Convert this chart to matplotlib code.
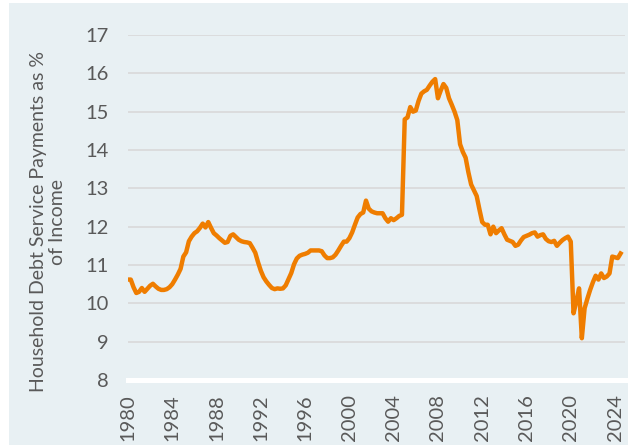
import numpy as np
import matplotlib
matplotlib.use("Agg")
from matplotlib import pyplot as plt
from matplotlib.patches import Rectangle

# quarterly values, 1980Q1 .. 2024Q3
dsr = [
    10.62, 10.62, 10.42, 10.27,   # 1980
    10.30, 10.40, 10.30, 10.38,   # 1981
    10.46, 10.51, 10.44, 10.38,   # 1982
    10.35, 10.35, 10.37, 10.42,   # 1983
    10.50, 10.62, 10.75, 10.90,   # 1984
    11.22, 11.33, 11.62, 11.74,   # 1985
    11.83, 11.88, 11.97, 12.08,   # 1986
    11.98, 12.12, 11.97, 11.83,   # 1987
    11.77, 11.70, 11.64, 11.58,   # 1988
    11.60, 11.76, 11.80, 11.73,   # 1989
    11.66, 11.62, 11.60, 11.59,   # 1990
    11.57, 11.45, 11.32, 11.07,   # 1991
    10.85, 10.68, 10.57, 10.48,   # 1992
    10.40, 10.37, 10.39, 10.38,   # 1993
    10.39, 10.47, 10.63, 10.79,   # 1994
    11.02, 11.17, 11.24, 11.27,   # 1995
    11.29, 11.32, 11.38, 11.38,   # 1996
    11.38, 11.38, 11.36, 11.25,   # 1997
    11.18, 11.18, 11.20, 11.27,   # 1998
    11.38, 11.50, 11.61, 11.61,   # 1999
    11.70, 11.85, 12.05, 12.24,   # 2000
    12.33, 12.37, 12.68, 12.47,   # 2001
    12.40, 12.37, 12.35, 12.35,   # 2002
    12.35, 12.22, 12.13, 12.22,   # 2003
    12.17, 12.22, 12.28, 12.31,   # 2004
    14.80, 14.85, 15.12, 15.00,   # 2005
    15.03, 15.28, 15.47, 15.53,   # 2006
    15.57, 15.68, 15.78, 15.85,   # 2007
    15.35, 15.55, 15.72, 15.62,   # 2008
    15.35, 15.18, 15.00, 14.78,   # 2009
    14.15, 13.95, 13.80, 13.42,   # 2010
    13.10, 12.95, 12.80, 12.45,   # 2011
    12.12, 12.05, 12.05, 11.80,   # 2012
    12.00, 11.83, 11.90, 11.96,   # 2013
    11.80, 11.66, 11.63, 11.60,   # 2014
    11.50, 11.53, 11.64, 11.73,   # 2015
    11.76, 11.79, 11.83, 11.85,   # 2016
    11.74, 11.78, 11.80, 11.68,   # 2017
    11.62, 11.60, 11.63, 11.50,   # 2018
    11.58, 11.65, 11.70, 11.74,   # 2019
    11.61, 9.74, 10.05, 10.39,    # 2020
    9.09, 9.87, 10.12, 10.35,     # 2021
    10.55, 10.72, 10.62, 10.78,   # 2022
    10.66, 10.70, 10.78, 11.22,   # 2023
    11.20, 11.18, 11.30,          # 2024
]
years = 1980 + np.arange(len(dsr)) / 4.0
xticks = list(range(1980, 2025, 4))
yticks = list(range(8, 18))

orange = '#ef7d00'
panel = '#e8f0f3'
grid_c = '#d9d9d9'
text_c = '#595959'

plt.rcParams['font.family'] = ['Lato', 'DejaVu Sans']

fig = plt.figure(figsize=(6.28, 4.46), dpi=100, facecolor='white')
# light panel behind everything
fig.patches.append(Rectangle((9/628, 1/446), 619/628, 442/446, transform=fig.transFigure,
                             facecolor=panel, edgecolor='none', zorder=-10))

ax = fig.add_axes([128/628, 1-380/446, 497/628, 345/446])
ax.set_facecolor('none')

for v in yticks[1:]:
    ax.axhline(v, color=grid_c, lw=1.2, zorder=1)
ax.axhline(8, color='white', lw=3.6, zorder=2, clip_on=False)

ax.plot(years, dsr, color=orange, lw=3.2, solid_joinstyle='round', zorder=3)

ax.set_xlim(1980, 2024.9)
ax.set_ylim(8, 17)
ax.set_xticks(xticks)
ax.set_xticklabels([str(t) for t in xticks], rotation=90)
ax.set_yticks(yticks)
ax.tick_params(axis='both', length=0, colors=text_c, labelsize=14.5)
ax.tick_params(axis='y', pad=14)
ax.tick_params(axis='x', pad=10)
for s in ax.spines.values():
    s.set_visible(False)

fig.text(48/628, 1-222/446, "Household Debt Service Payments as %\nof Income",
         rotation=90, ha='center', va='center', multialignment='center',
         fontsize=14, color=text_c, linespacing=1.1)

fig.savefig('out.png', dpi=100, facecolor='white')
